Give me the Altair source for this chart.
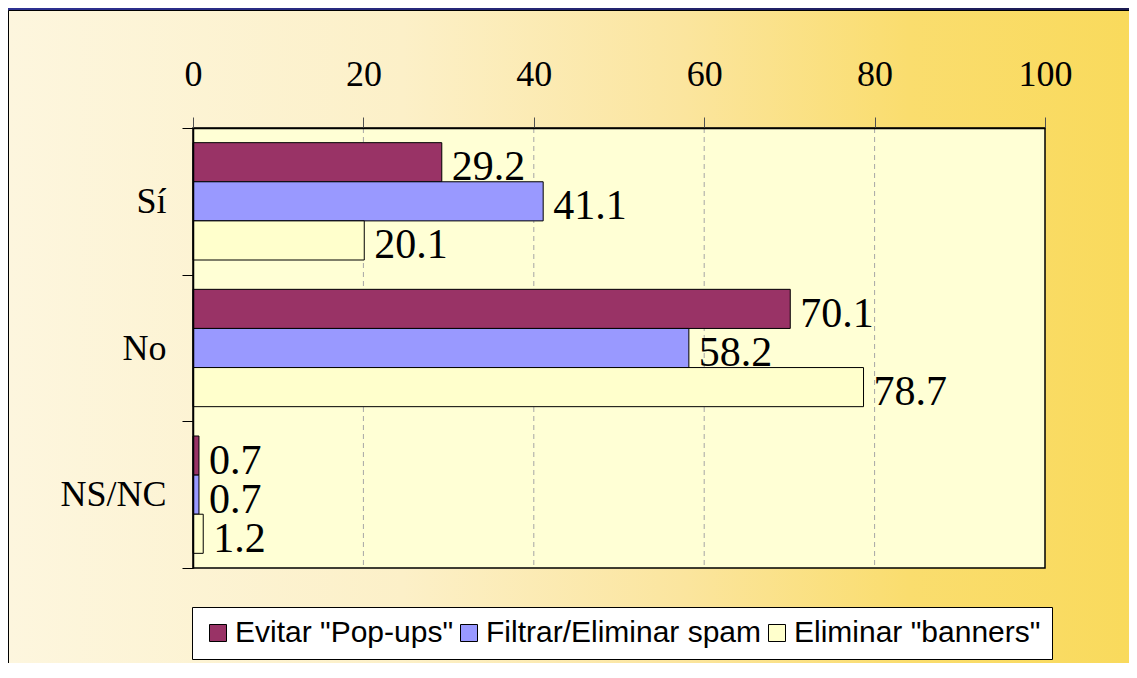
import altair as alt
import pandas as pd

categories = ["Sí", "No", "NS/NC"]
series = ['Evitar "Pop-ups"', "Filtrar/Eliminar spam", 'Eliminar "banners"']
popups = [29.2, 70.1, 0.7]
spam = [41.1, 58.2, 0.7]
banners = [20.1, 78.7, 1.2]
colors = ["#993366", "#9999FF", "#FFFFCC"]
x_ticks = [0, 20, 40, 60, 80, 100]
grid_ticks = [20, 40, 60, 80]

rows = []
for s, vals in zip(series, [popups, spam, banners]):
    for c, v in zip(categories, vals):
        rows.append({"cat": c, "serie": s, "value": v})
df = pd.DataFrame(rows)
grid_df = pd.DataFrame({"value": grid_ticks})
one = pd.DataFrame({"k": [0]})

W, H = 852, 440
PL, PT, PR, PB = 185, 120, 84, 95

xscale = alt.Scale(domain=[0, 100], nice=False, zero=True)
xaxis = alt.Axis(orient="top", values=x_ticks, title=None, tickSize=11, tickColor="#505050",
                 tickWidth=1, domainColor="black", domainWidth=1.5,
                 labelFont="Liberation Serif", labelFontSize=36, labelColor="black",
                 labelPadding=24, labelFlush=False, grid=False, zindex=1, format="d")
yaxis = alt.Axis(title=None, tickBand="extent", tickSize=11, tickColor="black", tickWidth=1,
                 domainColor="black", domainWidth=1.5, labelFont="Liberation Serif",
                 labelFontSize=36, labelColor="black", labelPadding=16, grid=False, zindex=1)

x_enc = alt.X("value:Q", scale=xscale, axis=xaxis, title=None)
y_enc = alt.Y("cat:N", sort=categories, title=None,
              scale=alt.Scale(paddingInner=0, paddingOuter=0), axis=yaxis)
yoff_enc = alt.YOffset("serie:N", sort=series,
                       scale=alt.Scale(domain=series, paddingInner=0, paddingOuter=0.375))

navy = alt.Chart(one).mark_rect(
    fill=alt.LinearGradient(gradient="linear",
                            stops=[alt.GradientStop(color="#2E3192", offset=0),
                                   alt.GradientStop(color="#1B1A52", offset=1)],
                            x1=0, x2=1, y1=0, y2=0)
).encode(x=alt.value(-PL), x2=alt.value(W + PR), y=alt.value(-PT), y2=alt.value(H + PB))

cream = alt.Chart(one).mark_rect(
    fill=alt.LinearGradient(gradient="linear",
                            stops=[alt.GradientStop(color="#FDF6DE", offset=0),
                                   alt.GradientStop(color="#FCF0C8", offset=0.35),
                                   alt.GradientStop(color="#FBE59E", offset=0.6),
                                   alt.GradientStop(color="#FADD6E", offset=0.8),
                                   alt.GradientStop(color="#F9DA5C", offset=1)],
                            x1=0, x2=1, y1=0, y2=0),
    stroke="black", strokeWidth=1
).encode(x=alt.value(-PL + 0.5), x2=alt.value(W + PR + 5), y=alt.value(-PT + 2.5),
         y2=alt.value(H + PB + 5))

plotbg = alt.Chart(one).mark_rect(fill="#FFFFD5", stroke="black", strokeWidth=1.5).encode(
    x=alt.value(0), x2=alt.value(W), y=alt.value(0), y2=alt.value(H))

grid = alt.Chart(grid_df).mark_rule(color="#A6A6A6", strokeDash=[5, 4], strokeWidth=1).encode(
    x=x_enc)

bars = alt.Chart(df).mark_bar(stroke="black", strokeWidth=1).encode(
    x=x_enc,
    y=y_enc,
    yOffset=yoff_enc,
    color=alt.Color("serie:N", sort=series,
                    scale=alt.Scale(domain=series, range=colors),
                    legend=alt.Legend(title=None, orient="none", legendX=-1, legendY=479,
                                      direction="horizontal", fillColor="white",
                                      strokeColor="black", padding=11,
                                      labelFont="Liberation Sans", labelFontSize=30,
                                      labelColor="black", symbolType="square",
                                      symbolSize=289, symbolStrokeColor="black",
                                      symbolStrokeWidth=1, symbolOpacity=1,
                                      columnPadding=0, labelOffset=2, labelLimit=0,
                                      zindex=1)),
)

labels = alt.Chart(df).mark_text(align="left", baseline="alphabetic", dx=10, dy=18,
                                 font="Liberation Serif", fontSize=42, color="black").encode(
    x=x_enc,
    y=y_enc,
    yOffset=yoff_enc,
    text=alt.Text("value:Q", format=".1f"),
)

chart = alt.layer(navy, cream, plotbg, grid, bars, labels).properties(
    width=W, height=H,
    autosize=alt.AutoSizeParams(type="none"),
    padding={"left": PL, "top": PT, "right": PR, "bottom": PB},
    background="#2A2D86",
).configure_view(stroke=None)

chart.save("out.html", embed_options={"renderer": "svg", "actions": False})
